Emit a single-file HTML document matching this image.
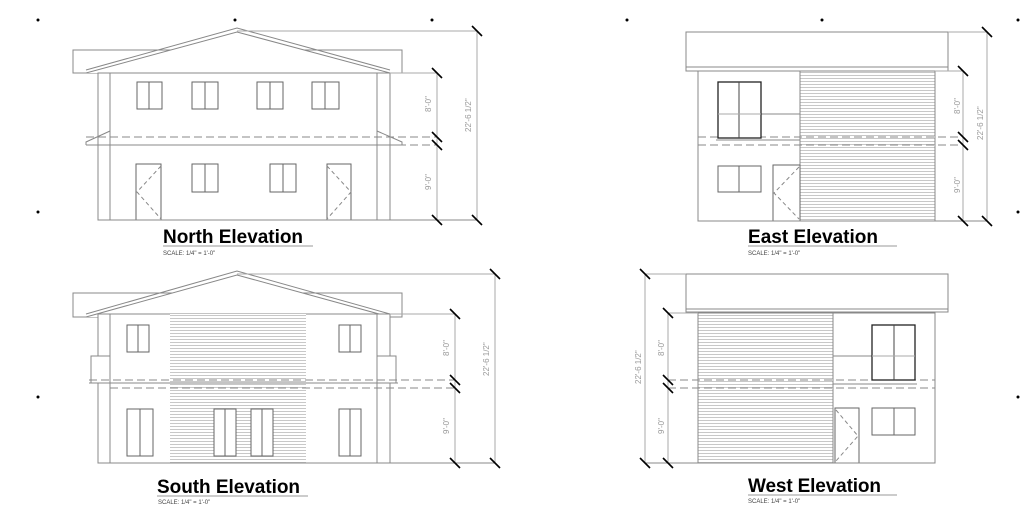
<!DOCTYPE html>
<html><head><meta charset="utf-8"><style>
html,body{margin:0;padding:0;background:#fff;}
svg{display:block}
text{font-family:"Liberation Sans",sans-serif;}
</style></head><body>
<svg width="1024" height="517" viewBox="0 0 1024 517" xmlns="http://www.w3.org/2000/svg">
<defs>
<pattern id="sid" width="4" height="3" patternUnits="userSpaceOnUse">
<rect width="4" height="3" fill="#fff"/><line x1="0" y1="0.5" x2="4" y2="0.5" stroke="#bbb" stroke-width="0.8"/>
</pattern>
</defs>
<rect width="1024" height="517" fill="#fff"/>
<g fill="#000">
<circle cx="38" cy="20" r="1.5"/><circle cx="235" cy="20" r="1.5"/><circle cx="432" cy="20" r="1.5"/>
<circle cx="627" cy="20" r="1.5"/><circle cx="822" cy="20" r="1.5"/><circle cx="1018" cy="20" r="1.5"/>
<circle cx="38" cy="212" r="1.5"/><circle cx="1018" cy="212" r="1.5"/>
<circle cx="38" cy="397" r="1.5"/><circle cx="1018" cy="397" r="1.5"/>
</g>

<!-- NORTH -->
<g fill="none" stroke="#888" stroke-width="1">
<rect x="73" y="50" width="329" height="23"/>
<polyline points="86,73 237,32 390,73" fill="#fff"/>
<polyline points="86,70 237,28 390,70"/>
<line x1="237" y1="31" x2="477" y2="31" stroke="#aaa"/>
<rect x="98" y="73" width="292" height="147" fill="#fff"/>
<line x1="110" y1="73" x2="110" y2="220"/><line x1="377" y1="73" x2="377" y2="220"/>
<polyline points="86,145 86,142 110,131"/><polyline points="402,145 402,142 377,131"/>
<line x1="86" y1="145" x2="402" y2="145"/>
<line x1="86" y1="137" x2="437" y2="137" stroke-dasharray="8,4"/>
<line x1="86" y1="145" x2="437" y2="145" stroke-dasharray="8,4"/>
<g stroke="#666">
<rect x="137" y="82" width="25" height="27"/><line x1="149" y1="82" x2="149" y2="109"/>
<rect x="192" y="82" width="26" height="27"/><line x1="205" y1="82" x2="205" y2="109"/>
<rect x="257" y="82" width="26" height="27"/><line x1="270" y1="82" x2="270" y2="109"/>
<rect x="312" y="82" width="27" height="27"/><line x1="325" y1="82" x2="325" y2="109"/>
<rect x="192" y="164" width="26" height="28"/><line x1="205" y1="164" x2="205" y2="192"/>
<rect x="270" y="164" width="26" height="28"/><line x1="283" y1="164" x2="283" y2="192"/>
<rect x="136" y="164" width="25" height="56"/><rect x="327" y="164" width="24" height="56"/>
</g>
<polyline points="161,166 137,192 161,219" stroke-dasharray="4,3"/>
<polyline points="327,166 351,192 327,219" stroke-dasharray="4,3"/>
<line x1="390" y1="73" x2="437" y2="73" stroke="#aaa"/>
<line x1="437" y1="73" x2="437" y2="220" stroke="#aaa"/>
<line x1="477" y1="31" x2="477" y2="220" stroke="#aaa"/>
<line x1="98" y1="220" x2="477" y2="220"/>
</g>
<g stroke="#000" stroke-width="1.6">
<line x1="432" y1="68" x2="442" y2="78"/><line x1="432" y1="132" x2="442" y2="142"/><line x1="432" y1="140" x2="442" y2="150"/><line x1="432" y1="215" x2="442" y2="225"/>
<line x1="472" y1="26" x2="482" y2="36"/><line x1="472" y1="215" x2="482" y2="225"/>
</g>
<g fill="#999" font-size="8">
<text transform="translate(431,112) rotate(-90)">8'-0"</text>
<text transform="translate(431,190) rotate(-90)">9'-0"</text>
<text transform="translate(471,132) rotate(-90)">22'-6 1/2"</text>
</g>
<text x="163" y="243" font-size="19" font-weight="bold" textLength="140" fill="#000">North Elevation</text>
<line x1="163" y1="246" x2="313" y2="246" stroke="#999"/>
<text x="163" y="255" font-size="6" fill="#444">SCALE: 1/4" = 1'-0"</text>

<!-- SOUTH -->
<g fill="none" stroke="#888" stroke-width="1">
<rect x="73" y="293" width="329" height="24"/>
<polyline points="86,317 237,275 390,317" fill="#fff"/>
<polyline points="86,314 237,271 390,314"/>
<line x1="237" y1="274" x2="495" y2="274" stroke="#aaa"/>
<rect x="98" y="314" width="292" height="149" fill="#fff"/>
<rect x="170" y="314" width="136" height="149" fill="url(#sid)" stroke="none"/>
<line x1="110" y1="314" x2="110" y2="463"/><line x1="377" y1="314" x2="377" y2="463"/>
<rect x="91" y="356" width="19" height="27" fill="#fff"/><rect x="377" y="356" width="19" height="27" fill="#fff"/>
<line x1="89" y1="383" x2="398" y2="383"/>
<line x1="89" y1="380" x2="455" y2="380" stroke-dasharray="8,4"/>
<line x1="110" y1="388" x2="455" y2="388" stroke-dasharray="8,4"/>
<g stroke="#666" fill="#fff">
<rect x="127" y="325" width="22" height="27"/><line x1="138" y1="325" x2="138" y2="352"/>
<rect x="339" y="325" width="22" height="27"/><line x1="350" y1="325" x2="350" y2="352"/>
<rect x="127" y="409" width="26" height="47"/><line x1="140" y1="409" x2="140" y2="456"/>
<rect x="214" y="409" width="22" height="47"/><line x1="225" y1="409" x2="225" y2="456"/>
<rect x="251" y="409" width="22" height="47"/><line x1="262" y1="409" x2="262" y2="456"/>
<rect x="339" y="409" width="22" height="47"/><line x1="350" y1="409" x2="350" y2="456"/>
</g>
<line x1="390" y1="314" x2="455" y2="314" stroke="#aaa"/>
<line x1="455" y1="314" x2="455" y2="463" stroke="#aaa"/>
<line x1="495" y1="274" x2="495" y2="463" stroke="#aaa"/>
<line x1="98" y1="463" x2="495" y2="463"/>
</g>
<g stroke="#000" stroke-width="1.6">
<line x1="450" y1="309" x2="460" y2="319"/><line x1="450" y1="375" x2="460" y2="385"/><line x1="450" y1="383" x2="460" y2="393"/><line x1="450" y1="458" x2="460" y2="468"/>
<line x1="490" y1="269" x2="500" y2="279"/><line x1="490" y1="458" x2="500" y2="468"/>
</g>
<g fill="#999" font-size="8">
<text transform="translate(449,356) rotate(-90)">8'-0"</text>
<text transform="translate(449,434) rotate(-90)">9'-0"</text>
<text transform="translate(489,376) rotate(-90)">22'-6 1/2"</text>
</g>
<text x="157" y="493" font-size="19" font-weight="bold" textLength="143" fill="#000">South Elevation</text>
<line x1="157" y1="496" x2="308" y2="496" stroke="#999"/>
<text x="158" y="504" font-size="6" fill="#444">SCALE: 1/4" = 1'-0"</text>

<!-- EAST -->
<g fill="none" stroke="#888" stroke-width="1">
<rect x="686" y="32" width="262" height="39"/>
<line x1="686" y1="67" x2="948" y2="67"/>
<rect x="698" y="71" width="237" height="150" fill="#fff"/>
<rect x="800" y="71" width="135" height="150" fill="url(#sid)"/>
<line x1="698" y1="137" x2="963" y2="137" stroke-dasharray="8,4"/>
<line x1="698" y1="145" x2="963" y2="145" stroke-dasharray="8,4"/>
<line x1="718" y1="114" x2="800" y2="114"/>
<line x1="716" y1="140" x2="800" y2="140"/>
<rect x="718" y="82" width="43" height="56" stroke="#222" stroke-width="1.3" fill="#fff"/>
<line x1="739" y1="82" x2="739" y2="138" stroke="#444"/><line x1="718" y1="114" x2="761" y2="114" stroke="#aaa"/>
<g stroke="#666">
<rect x="718" y="166" width="43" height="26"/><line x1="739" y1="166" x2="739" y2="192"/>
<rect x="773" y="165" width="27" height="56"/>
</g>
<polyline points="799,167 774,193 799,219" stroke-dasharray="4,3"/>
<line x1="948" y1="32" x2="987" y2="32" stroke="#aaa"/>
<line x1="935" y1="71" x2="963" y2="71" stroke="#aaa"/>
<line x1="963" y1="71" x2="963" y2="221" stroke="#aaa"/>
<line x1="987" y1="32" x2="987" y2="221" stroke="#aaa"/>
<line x1="698" y1="221" x2="987" y2="221"/>
</g>
<g stroke="#000" stroke-width="1.6">
<line x1="958" y1="66" x2="968" y2="76"/><line x1="958" y1="132" x2="968" y2="142"/><line x1="958" y1="140" x2="968" y2="150"/><line x1="958" y1="216" x2="968" y2="226"/>
<line x1="982" y1="27" x2="992" y2="37"/><line x1="982" y1="216" x2="992" y2="226"/>
</g>
<g fill="#999" font-size="8">
<text transform="translate(960,114) rotate(-90)">8'-0"</text>
<text transform="translate(960,193) rotate(-90)">9'-0"</text>
<text transform="translate(983,140) rotate(-90)">22'-6 1/2"</text>
</g>
<text x="748" y="243" font-size="19" font-weight="bold" textLength="130" fill="#000">East Elevation</text>
<line x1="748" y1="246" x2="897" y2="246" stroke="#999"/>
<text x="748" y="255" font-size="6" fill="#444">SCALE: 1/4" = 1'-0"</text>

<!-- WEST -->
<g fill="none" stroke="#888" stroke-width="1">
<rect x="686" y="274" width="262" height="38"/>
<line x1="686" y1="309" x2="948" y2="309"/>
<rect x="698" y="313" width="237" height="150" fill="#fff"/>
<rect x="698" y="313" width="135" height="150" fill="url(#sid)"/>
<line x1="668" y1="380" x2="935" y2="380" stroke-dasharray="8,4"/>
<line x1="668" y1="388" x2="935" y2="388" stroke-dasharray="8,4"/>
<line x1="833" y1="356" x2="915" y2="356"/>
<line x1="833" y1="384" x2="917" y2="384"/>
<rect x="872" y="325" width="43" height="55" stroke="#222" stroke-width="1.3" fill="#fff"/>
<line x1="894" y1="325" x2="894" y2="380" stroke="#444"/><line x1="872" y1="356" x2="915" y2="356" stroke="#aaa"/>
<g stroke="#666">
<rect x="872" y="408" width="43" height="27"/><line x1="894" y1="408" x2="894" y2="435"/>
<rect x="835" y="408" width="24" height="55"/>
</g>
<polyline points="836,410 858,436 836,461" stroke-dasharray="4,3"/>
<line x1="645" y1="274" x2="686" y2="274" stroke="#aaa"/>
<line x1="668" y1="313" x2="698" y2="313" stroke="#aaa"/>
<line x1="668" y1="313" x2="668" y2="463" stroke="#aaa"/>
<line x1="645" y1="274" x2="645" y2="463" stroke="#aaa"/>
<line x1="645" y1="463" x2="935" y2="463"/>
</g>
<g stroke="#000" stroke-width="1.6">
<line x1="663" y1="308" x2="673" y2="318"/><line x1="663" y1="375" x2="673" y2="385"/><line x1="663" y1="383" x2="673" y2="393"/><line x1="663" y1="458" x2="673" y2="468"/>
<line x1="640" y1="269" x2="650" y2="279"/><line x1="640" y1="458" x2="650" y2="468"/>
</g>
<g fill="#999" font-size="8">
<text transform="translate(664,356) rotate(-90)">8'-0"</text>
<text transform="translate(664,434) rotate(-90)">9'-0"</text>
<text transform="translate(641,384) rotate(-90)">22'-6 1/2"</text>
</g>
<text x="748" y="492" font-size="19" font-weight="bold" textLength="133" fill="#000">West Elevation</text>
<line x1="748" y1="495" x2="897" y2="495" stroke="#999"/>
<text x="748" y="503" font-size="6" fill="#444">SCALE: 1/4" = 1'-0"</text>
</svg>
</body></html>
